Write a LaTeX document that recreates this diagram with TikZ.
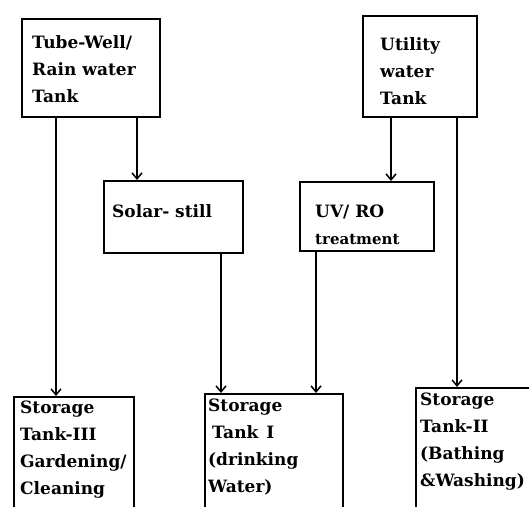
\documentclass[tikz,border=0pt]{standalone}
\usepackage{fontspec}
\setmainfont{DejaVu Serif}
\usetikzlibrary{arrows.meta}
\newcommand\stk[1]{\begin{tabular}[t]{@{}l@{}}#1\end{tabular}}
\begin{document}
\begin{tikzpicture}[x=1pt,y=-1pt,
  boxx/.style={draw,line width=1.6pt,anchor=north west,inner sep=0pt},
  txt/.style={anchor=base west,inner sep=0pt,font=\bfseries\fontsize{17}{27}\selectfont},
  arr/.style={line width=1.6pt,-{Straight Barb[length=6pt,width=10pt,line width=1.5pt]}}]
\useasboundingbox (0,0) rectangle (529,506);
\clip (0,0) rectangle (529,506);
% boxes
\node[boxx,minimum width=138pt,minimum height=98pt] (tw) at (21,18) {};
\node[boxx,minimum width=114pt,minimum height=101pt] (ut) at (362,15) {};
\node[boxx,minimum width=139pt,minimum height=72pt] (ss) at (103,180) {};
\node[boxx,minimum width=134pt,minimum height=69pt] (uv) at (299,181) {};
\node[boxx,minimum width=120pt,minimum height=140pt] (s3) at (13,396) {};
\node[boxx,minimum width=138pt,minimum height=140pt] (s1) at (204,393) {};
\node[boxx,minimum width=140pt,minimum height=140pt] (s2) at (415,387) {};
% texts
\node[txt] (twt) at (32,48) {\stk{Tube-Well/\\Rain water\\Tank}};
\node[txt] (utt) at (380,50) {\stk{Utility\\water\\Tank}};
\node[txt] (sst) at (112,217) {Solar- still};
\node[txt] (uvt) at (315,217) {\stk{UV/ RO\\{\fontsize{15}{27}\selectfont treatment}}};
\node[txt] (s3t) at (20,413) {\stk{Storage\\Tank-III\\Gardening/\\Cleaning}};
\node[txt] (s1t) at (208,411) {\stk{Storage\\\hspace{4pt}Tank\hspace{8pt}I\\(drinking\\Water)}};
\node[txt] (s2t) at (420,405) {\stk{Storage\\Tank-II\\(Bathing\\\&Washing)}};
% connectors
\draw[arr] (tw.south -| 56,0) -- (s3.north -| 56,0);
\draw[arr] (tw.south -| 137,0) -- (ss.north -| 137,0);
\draw[arr] (ut.south -| 391,0) -- (uv.north -| 391,0);
\draw[arr] (ut.south -| 457,0) -- (s2.north -| 457,0);
\draw[arr] (ss.south -| 221,0) -- (s1.north -| 221,0);
\draw[arr] (uv.south -| 316,0) -- (s1.north -| 316,0);
\end{tikzpicture}
\end{document}
